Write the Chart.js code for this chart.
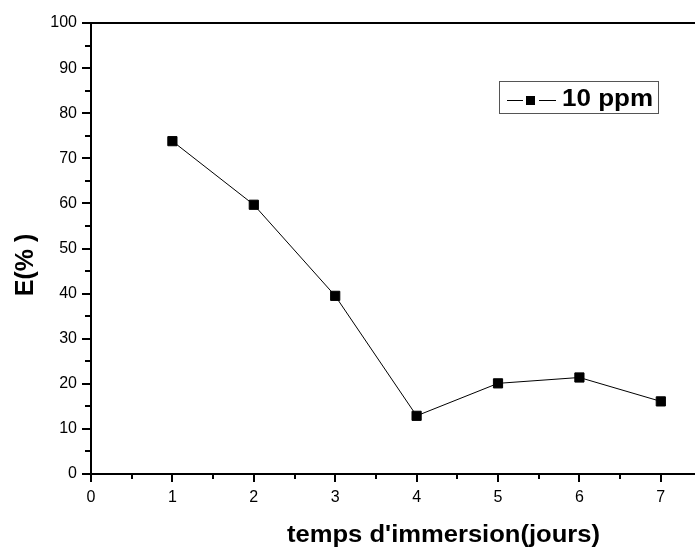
<!DOCTYPE html>
<html>
<head>
<meta charset="utf-8">
<script src="https://cdn.jsdelivr.net/npm/chart.js@4/dist/chart.umd.min.js"></script>
<style>
  html, body { margin: 0; padding: 0; background: #fff; }
  #wrap { width: 695px; height: 554px; }
</style>
</head>
<body>
<div id="wrap"><canvas id="chart"></canvas></div>
<script>
// données
const jours = [1, 2, 3, 4, 5, 6, 7];
const efficacite = [73.8, 59.7, 39.5, 12.9, 20.1, 21.4, 16.1];
const serieLabel = '10 ppm';
const xTitre = "temps d'immersion(jours)";
const yTitre = 'E(% )';
const xMinorTicks = [0.5, 1.5, 2.5, 3.5, 4.5, 5.5, 6.5];
const yMinorTicks = [5, 15, 25, 35, 45, 55, 65, 75, 85, 95];

const FONT = '"Liberation Sans", Arial, Helvetica, sans-serif';

// ticks mineurs, cadre du haut, légende et titres des axes
const decorPlugin = {
    id: 'decor',
    afterDraw: function (chart) {
        const ctx = chart.ctx;
        const area = chart.chartArea;
        const xs = chart.scales.x;
        const ys = chart.scales.y;

        ctx.save();
        ctx.strokeStyle = '#000';
        ctx.lineWidth = 2;

        // ticks mineurs
        ctx.beginPath();
        xMinorTicks.forEach(function (v) {
            const px = Math.round(xs.getPixelForValue(v));
            ctx.moveTo(px, area.bottom);
            ctx.lineTo(px, area.bottom + 5);
        });
        yMinorTicks.forEach(function (v) {
            const py = Math.round(ys.getPixelForValue(v));
            ctx.moveTo(area.left, py);
            ctx.lineTo(area.left - 6, py);
        });
        ctx.stroke();

        // ligne du haut
        ctx.beginPath();
        ctx.moveTo(area.left - 1, area.top);
        ctx.lineTo(chart.width, area.top);
        ctx.stroke();

        // légende
        ctx.lineWidth = 1;
        ctx.strokeStyle = '#555';
        ctx.strokeRect(499.5, 81.5, 159, 32);
        ctx.strokeStyle = '#000';
        ctx.beginPath();
        ctx.moveTo(507, 100.5);
        ctx.lineTo(523, 100.5);
        ctx.moveTo(539, 100.5);
        ctx.lineTo(556, 100.5);
        ctx.stroke();
        ctx.fillStyle = '#000';
        ctx.fillRect(526, 96, 9, 9);
        ctx.font = 'bold 24px ' + FONT;
        ctx.textBaseline = 'alphabetic';
        ctx.textAlign = 'left';
        const lw = ctx.measureText(serieLabel).width;
        ctx.save();
        ctx.translate(562, 106);
        ctx.scale(91 / lw, 1);
        ctx.fillText(serieLabel, 0, 0);
        ctx.restore();

        // titre axe x
        ctx.font = 'bold 23px ' + FONT;
        const tw = ctx.measureText(xTitre).width;
        ctx.save();
        ctx.translate(287, 542);
        ctx.scale(313 / tw, 1);
        ctx.fillText(xTitre, 0, 0);
        ctx.restore();

        // titre axe y
        ctx.font = 'bold 25px ' + FONT;
        ctx.save();
        ctx.translate(33, 265);
        ctx.rotate(-Math.PI / 2);
        ctx.textAlign = 'center';
        ctx.fillText(yTitre, 0, 0);
        ctx.restore();

        ctx.restore();
    }
};

new Chart(document.getElementById('chart'), {
    type: 'scatter',
    data: {
        datasets: [{
            label: serieLabel,
            data: jours.map(function (j, i) { return { x: j, y: efficacite[i] }; }),
            showLine: true,
            borderColor: '#000',
            borderWidth: 1,
            backgroundColor: '#000',
            pointStyle: 'rect',
            pointRadius: 6.5,
            pointBorderWidth: 1,
            pointBorderColor: '#000',
            pointBackgroundColor: '#000'
        }]
    },
    options: {
        responsive: true,
        maintainAspectRatio: false,
        animation: false,
        events: [],
        layout: {
            autoPadding: false,
            padding: { top: 23, right: 0, left: 0, bottom: 0 }
        },
        plugins: {
            legend: { display: false },
            tooltip: { enabled: false }
        },
        scales: {
            x: {
                type: 'linear',
                min: 0,
                max: 7.42,
                afterFit: function (scale) {
                    scale.height = 80;
                    scale.paddingLeft = 0;
                    scale.paddingRight = 0;
                },
                border: { display: true, color: '#000', width: 2 },
                grid: { drawOnChartArea: false, drawTicks: true, tickLength: 8, color: '#000', lineWidth: 2 },
                ticks: {
                    stepSize: 1,
                    includeBounds: false,
                    color: '#000',
                    padding: 6,
                    maxRotation: 0,
                    font: { family: FONT, size: 16 }
                }
            },
            y: {
                min: 0,
                max: 100,
                afterFit: function (scale) {
                    scale.width = 91;
                    scale.paddingTop = 0;
                    scale.paddingBottom = 0;
                },
                border: { display: true, color: '#000', width: 2 },
                grid: { drawOnChartArea: false, drawTicks: true, tickLength: 9, color: '#000', lineWidth: 2 },
                ticks: {
                    stepSize: 10,
                    color: '#000',
                    padding: 5,
                    font: { family: FONT, size: 16 }
                }
            }
        }
    },
    plugins: [decorPlugin]
});
</script>
</body>
</html>
